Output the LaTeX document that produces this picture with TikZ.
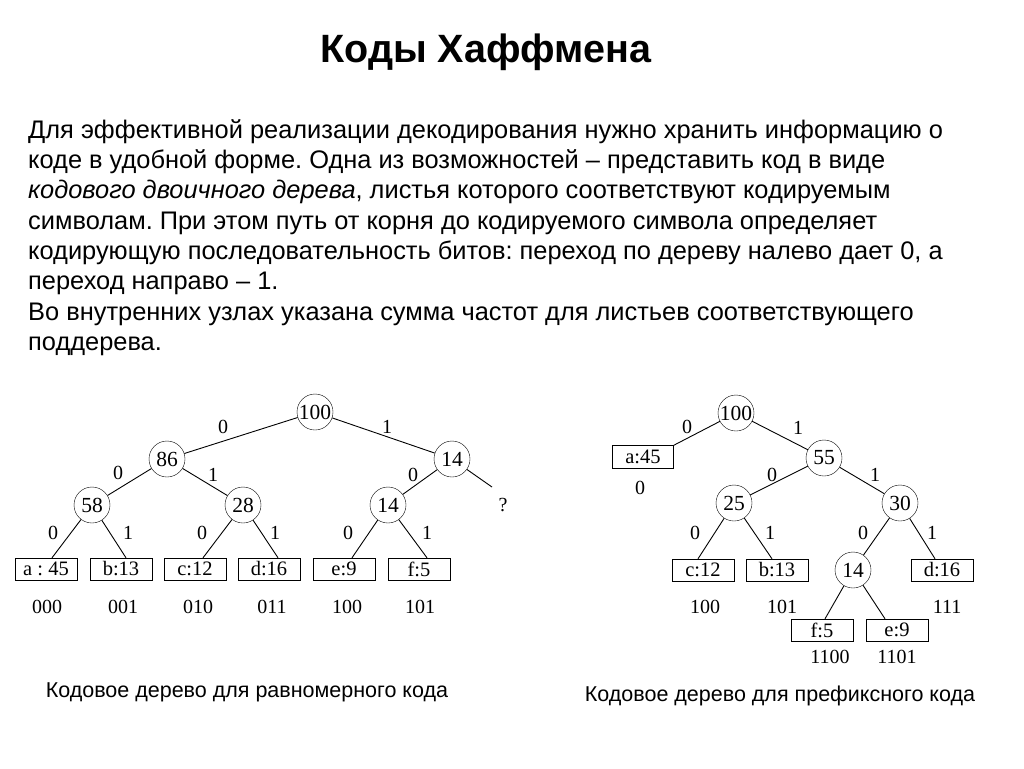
\documentclass[tikz,border=0pt]{standalone}
\usepackage{fontspec}
\setmainfont{Liberation Sans}
\newfontfamily\treefont{Liberation Serif}
\frenchspacing
\begin{document}
\begin{tikzpicture}[x=1pt,y=-1pt,
  circnode/.style={draw,circle,minimum size=36pt,inner sep=0pt,font=\treefont\fontsize{21.5}{21.5}\selectfont},
  leafbox/.style={draw,rectangle,minimum width=62pt,minimum height=22pt,inner sep=0pt,font=\treefont\fontsize{20.5}{20.5}\selectfont},
  edgelbl/.style={font=\treefont\fontsize{20}{20}\selectfont,inner sep=0pt},
  codelbl/.style={font=\treefont\fontsize{20}{20}\selectfont,inner sep=0pt},
  bodyline/.style={anchor=base west,inner sep=0pt,font=\fontsize{25.4}{30}\selectfont},
  captext/.style={anchor=base,inner sep=0pt,font=\fontsize{21.5}{21.5}\selectfont},
  treeline/.style={line width=0.9pt}]
\useasboundingbox (0,0) rectangle (1024,768);
\fill[white] (0,0) rectangle (1024,768);

% title
\node[anchor=base,inner sep=0pt,font=\bfseries\fontsize{39.5}{39.5}\selectfont] (title) at (486,63) {Коды Хаффмена};

% body text
\node[bodyline] (t1) at (28,138) {Для эффективной реализации декодирования нужно хранить информацию о};
\node[bodyline] (t2) at (28,168) {коде в удобной форме. Одна из возможностей – представить код в виде};
\node[bodyline] (t3) at (28,198) {\textit{кодового двоичного дерева}, листья которого соответствуют кодируемым};
\node[bodyline] (t4) at (28,229) {символам. При этом путь от корня до кодируемого символа определяет};
\node[bodyline] (t5) at (28,259) {кодирующую последовательность битов: переход по дереву налево дает 0, а};
\node[bodyline] (t6) at (28,289) {переход направо – 1.};
\node[bodyline] (t7) at (28,320) {Во внутренних узлах указана сумма частот для листьев соответствующего};
\node[bodyline] (t8) at (28,350) {поддерева.};

% ---------- left tree ----------
\node[circnode] (L100) at (315,412) {100};
\node[circnode] (L86) at (167,459) {86};
\node[circnode] (L14a) at (452,459) {14};
\node[circnode] (L58) at (92,505) {58};
\node[circnode] (L28) at (243,505) {28};
\node[circnode] (L14b) at (388,505) {14};
\node[edgelbl] (Lq) at (503,505) {?};
\coordinate (Lqend) at (492,487);
\node[leafbox] (La) at (46,569) {a : 45};
\node[leafbox] (Lb) at (121,569) {b:13};
\node[leafbox] (Lc) at (195,569) {c:12};
\node[leafbox] (Ld) at (269,569) {d:16};
\node[leafbox] (Le) at (344,569) {e:9};
\node[leafbox] (Lf) at (419,569) {f:5};
\node[codelbl] (Lca) at (47,607) {000};
\node[codelbl] (Lcb) at (123,607) {001};
\node[codelbl] (Lcc) at (198,607) {010};
\node[codelbl] (Lcd) at (272,607) {011};
\node[codelbl] (Lce) at (347,607) {100};
\node[codelbl] (Lcf) at (420,607) {101};

\draw[treeline] (L100) -- (L86);
\draw[treeline] (L100) -- (L14a);
\draw[treeline] (L86) -- (L58);
\draw[treeline] (L86) -- (L28);
\draw[treeline] (L14a) -- (L14b);
\draw[treeline] (L14a) -- (Lqend);
\draw[treeline] (L58) -- ([xshift=6pt]La.north);
\draw[treeline] (L58) -- ([xshift=5pt]Lb.north);
\draw[treeline] (L28) -- ([xshift=8pt]Lc.north);
\draw[treeline] (L28) -- ([xshift=9pt]Ld.north);
\draw[treeline] (L14b) -- ([xshift=8pt]Le.north);
\draw[treeline] (L14b) -- ([xshift=8pt]Lf.north);

\node[edgelbl] (l1) at (223,427) {0};
\node[edgelbl] (l2) at (387,427) {1};
\node[edgelbl] (l3) at (118,473) {0};
\node[edgelbl] (l4) at (213,475) {1};
\node[edgelbl] (l5) at (413,475) {0};
\node[edgelbl] (l6) at (53,533) {0};
\node[edgelbl] (l7) at (128,533) {1};
\node[edgelbl] (l8) at (202,533) {0};
\node[edgelbl] (l9) at (275,533) {1};
\node[edgelbl] (l10) at (348,533) {0};
\node[edgelbl] (l11) at (427,533) {1};

% ---------- right tree ----------
\node[circnode] (R100) at (736,413) {100};
\node[leafbox,minimum width=61pt,minimum height=23pt] (Ra) at (643,457) {a:45};
\node[codelbl] (Rca) at (640,488) {0};
\node[circnode] (R55) at (824,458) {55};
\node[circnode] (R25) at (734,503) {25};
\node[circnode] (R30) at (900,503) {30};
\node[leafbox] (Rc) at (703,570) {c:12};
\node[leafbox] (Rb) at (777,570) {b:13};
\node[circnode] (R14) at (853,570) {14};
\node[leafbox] (Rd) at (942,570) {d:16};
\node[leafbox] (Rf) at (822,630) {f:5};
\node[leafbox] (Re) at (897,630) {e:9};
\node[codelbl] (Rcc) at (705,607) {100};
\node[codelbl] (Rcb) at (782,607) {101};
\node[codelbl] (Rcd) at (947,607) {111};
\node[codelbl] (Rcf) at (830,657) {1100};
\node[codelbl] (Rce) at (897,657) {1101};

\draw[treeline] (R100) -- (Ra.north east);
\draw[treeline] (R100) -- (R55);
\draw[treeline] (R55) -- (R25);
\draw[treeline] (R55) -- (R30);
\draw[treeline] (R25) -- ([xshift=-5pt]Rc.north);
\draw[treeline] (R25) -- ([xshift=-5pt]Rb.north);
\draw[treeline] (R30) -- (R14);
\draw[treeline] (R30) -- ([xshift=-7pt]Rd.north);
\draw[treeline] (R14) -- ([xshift=3pt]Rf.north);
\draw[treeline] (R14) -- ([xshift=-12pt]Re.north);

\node[edgelbl] (r1) at (687,427) {0};
\node[edgelbl] (r2) at (798,428) {1};
\node[edgelbl] (r3) at (772,475) {0};
\node[edgelbl] (r4) at (875,475) {1};
\node[edgelbl] (r5) at (695,533) {0};
\node[edgelbl] (r6) at (770,533) {1};
\node[edgelbl] (r7) at (863,533) {0};
\node[edgelbl] (r8) at (932,533) {1};

% captions
\node[captext] (capL) at (247,697) {Кодовое дерево для равномерного кода};
\node[captext] (capR) at (780,701) {Кодовое дерево для префиксного кода};
\end{tikzpicture}
\end{document}
